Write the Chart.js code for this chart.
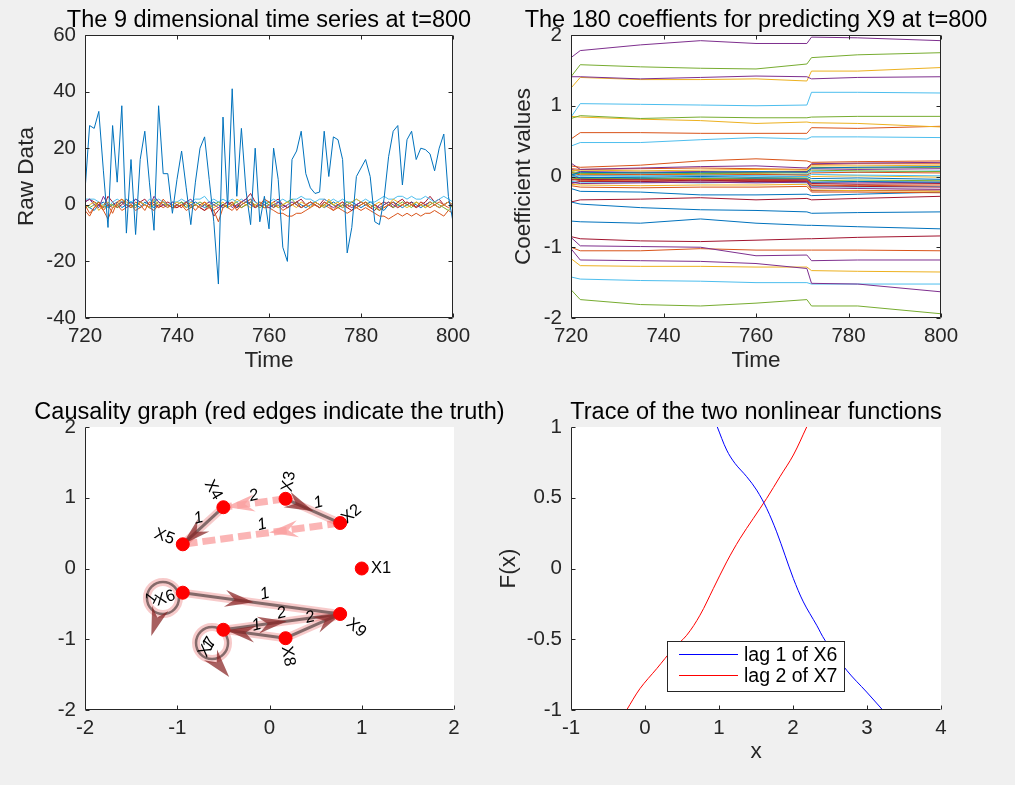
<!DOCTYPE html>
<html>
<head>
<meta charset="utf-8">
<script src="https://cdn.jsdelivr.net/npm/chart.js@4.4.1/dist/chart.umd.min.js"></script>
<style>
  html, body { margin: 0; padding: 0; background: #f0f0f0; }
  body { width: 1015px; height: 785px; position: relative; overflow: hidden; }
  canvas { position: absolute; }
  #c1 { left: 0; top: 0; }
  #c2 { left: 490px; top: 0; }
  #c3 { left: 0; top: 392px; }
  #c4 { left: 490px; top: 392px; }
</style>
</head>
<body>
<canvas id="c1" width="520" height="392"></canvas>
<canvas id="c2" width="525" height="392"></canvas>
<canvas id="c3" width="520" height="393"></canvas>
<canvas id="c4" width="525" height="393"></canvas>
<script>
// ---- panel 1: the 9 raw series, t = 720..800 ----
var timeStart = 720;
var ts1 = [5, 28, 27, 33, 12, -8, 28, 8, 35, -10,
  16, -10.5, 16, 26, 8, -9, 35, 11, 11, -3,
  9, 19, 6, -7, 8, 20, 24, 9, -6, -28,
  31, -1, 41, 3, 27, 5, -7, 20, -6, 3,
  -8.5, 20, 9, -15, -20, 16, 19, 26, 11, 6,
  4, 4.5, 26, 10, 24, 23, 16, -17, -8, 10,
  13, 16, 10, -6, -7, 2, 17, 26, 28, 7,
  23, 26, 16, 20, 19.5, 18, 12, 20, 25, 3,
  -6];
var ts2 = [0, -3, -1, 1, -2, 0, -3, 1, 2, 0,
  -1, 1, 0, -2, 1, 0, -1, 2, 0, -1,
  0, -1, 1, 0, -2, 0, 1, -1, -2, -6,
  -1, 0, 1, -2, 0, 1, 2, -1, 0, 2,
  1, -1, 0, -2, -1, 0, 1, -1, 0, 1,
  0, -1, 1, 0, -2, 0, 1, -1, 0, -1,
  0, 1, -1, 0, -2, -1, 0, 1, -1, 0,
  1, 0, -1, 1, 0, -1, 0, 1, 0, -1,
  0];
var ts3 = [-1, 0, 1, -2, 0, 1, -1, 0, 2, 1,
  0, -1, 1, 0, -1, 2, 0, 1, -1, 0,
  1, 0, -1, 1, 0, -1, 1, 0, -1, 0,
  1, -1, 0, 2, 1, 0, -1, 0, 1, -1,
  0, 1, -1, 0, 1, 0, -1, 1, 0, -1,
  1, 0, -1, 2, 0, 1, -1, 0, 1, 2,
  1, 0, -1, 0, 1, -1, 0, 2, 1, 0,
  -1, 0, 1, 0, -1, 1, 0, -1, 0, 1,
  0];
var ts4 = [1, 2, 0, -1, 3, 0, -1, 0, 1, -1,
  0, 2, 1, 0, -1, 3, 1, 0, -1, 1,
  0, -1, 1, 2, 0, -1, 0, 1, 0, -1,
  0, 1, -1, 0, 1, 2, 0, -1, 1, 0,
  -1, 0, 1, -1, 0, 1, 0, -1, 0, 1,
  0, -1, 1, 0, -1, 0, 1, 0, -1, 0,
  1, 0, -1, 0, -1, 0, 1, 0, -1, 0,
  1, 0, -1, 1, 0, 1, 0, -1, 0, 1,
  0];
var ts5 = [0, -1, 0, 1, -1, 0, 0, -1, 1, 0,
  -1, 0, 1, 0, -1, 0, 1, 0, 0, -1,
  0, 1, 0, -1, 0, 1, 0, -1, 0, 1,
  0, -1, 0, 1, -1, 0, 1, 0, -1, 0,
  1, 0, -1, 0, 1, 2, 0, -1, 0, 1,
  0, -1, 0, 1, 0, -1, 0, 1, 0, -1,
  0, 1, 0, -1, -2, 0, 1, -1, 0, 1,
  0, -1, 1, 0, -1, 0, 1, 0, -1, -2,
  0];
var ts6 = [2, 2, 2, 1, 0, -1, 1, 2, 1, 2,
  1, 2, 1, 0, 2, 1, 2, 1, 0, 1,
  1, 2, 1, 1, 2, 2, 3, 1, 2, 1,
  2, 1, 2, 1, 2, 1, 2, 1, 0, 1,
  1, 2, 1, 2, 1, 2, 2, 3, 2, 2,
  1, 2, 2, 1, 2, 1, 2, 1, 1, 2,
  1, 2, 1, 1, 2, 3, 2, 2, 3, 3,
  2, 3, 2, 2, 3, 2, 1, 2, 3, 2,
  1];
var ts7 = [1, 2, 1, 0, -1, 3, 1, -1, 0, 2,
  0, -1, 1, 2, 0, 1, -1, 0, 1, 0,
  -1, 0, 1, -1, 0, -1, -2, 0, -4, -2,
  0, 1, 0, -1, 1, 2, 4, 1, 0, -1,
  0, 1, 2, 0, -1, 0, 1, 2, 0, -1,
  1, 0, 2, 1, 0, -1, 0, -1, -2, 0,
  1, 0, -1, -2, 0, 1, 0, -1, 1, 2,
  0, 1, -1, 0, 1, 3, 1, 2, 0, 1,
  -1];
var ts8 = [0, -1, -2, 0, 1, -1, 0, 1, -1, 0,
  1, 0, -1, 1, 0, -1, 0, 1, 0, -1,
  0, 1, -1, 0, 1, 0, -1, 0, 1, 0,
  -1, 0, 1, -1, 0, 1, 0, -1, 0, 1,
  0, -1, 1, 0, -1, 0, 1, 0, -1, 0,
  1, 0, -1, 0, 1, 0, -1, 0, 1, 0,
  -1, 0, 1, 0, -1, -2, 0, 1, 0, -1,
  0, 1, 0, -1, 0, 1, 0, -1, 0, 1,
  0];
var ts9 = [-2, -4, -1, 0, -2, -5, -1, 0, -2, -1,
  0, -2, -1, 0, -1, -2, 0, -1, 0, -1,
  -1, 0, -2, -1, 0, -1, -2, -1, -2, -1,
  0, -1, -2, 0, -1, 0, 1, -1, 0, -1,
  -1, -2, -3, -3, -4, -4, -3, -3, -2, -1,
  0, -1, 0, -1, -2, -1, -2, -3, -2, -1,
  -2, -1, -2, -3, -4, -4, -5, -4, -3, -4,
  -3, -4, -3, -4, -3, -3, -2, -3, -4, -2,
  -3];

// ---- panel 2: coefficient paths, sampled at these times ----
var coefKnots = [720, 722, 735, 748, 760, 771, 772, 782, 800];
var coefUpper = [
  [1.68, 1.78, 1.86, 1.92, 1.88, 1.88, 1.97, 1.96, 1.92],
  [1.41, 1.58, 1.55, 1.53, 1.52, 1.59, 1.68, 1.72, 1.75],
  [1.41, 1.41, 1.38, 1.40, 1.42, 1.41, 1.38, 1.40, 1.41],
  [1.25, 1.40, 1.37, 1.37, 1.38, 1.35, 1.49, 1.49, 1.54],
  [0.84, 1.03, 1.02, 1.01, 1.00, 1.01, 1.19, 1.19, 1.18],
  [0.82, 0.86, 0.82, 0.84, 0.83, 0.83, 0.84, 0.85, 0.85],
  [0.85, 0.84, 0.81, 0.79, 0.75, 0.77, 0.76, 0.75, 0.70],
  [0.53, 0.62, 0.62, 0.61, 0.61, 0.61, 0.69, 0.68, 0.71],
  [0.43, 0.48, 0.48, 0.52, 0.55, 0.53, 0.56, 0.56, 0.55],
  [0.15, 0.13, 0.16, 0.22, 0.25, 0.22, 0.20, 0.21, 0.22],
  [0.19, 0.10, 0.12, 0.14, 0.15, 0.12, 0.18, 0.19, 0.20]
];
var coefUpperColor = [3, 4, 3, 2, 5, 4, 2, 1, 5, 1, 3];
var coefBand = [
  [0.02, 0.06, 0.05, 0.06, 0.07, 0.06, 0.12, 0.13, 0.14],
  [-0.03, -0.06, -0.05, -0.04, -0.05, -0.05, -0.12, -0.13, -0.12],
  [0.08, 0.09, 0.08, 0.09, 0.10, 0.09, 0.15, 0.15, 0.16],
  [-0.08, -0.10, -0.09, -0.08, -0.09, -0.08, -0.16, -0.17, -0.18],
  [0.05, 0.04, 0.05, 0.04, 0.05, 0.05, 0.09, 0.08, 0.07],
  [0.00, 0.01, 0.00, 0.02, 0.01, 0.00, 0.03, 0.02, 0.01],
  [-0.05, -0.04, -0.05, -0.06, -0.05, -0.06, -0.10, -0.11, -0.10],
  [0.03, -0.02, -0.01, 0.00, -0.01, 0.00, -0.03, -0.02, -0.04],
  [0.06, 0.02, 0.03, 0.02, 0.03, 0.02, 0.05, 0.06, 0.05],
  [-0.11, -0.12, -0.13, -0.12, -0.12, -0.11, -0.19, -0.20, -0.21],
  [0.10, 0.07, 0.06, 0.07, 0.06, 0.07, 0.11, 0.10, 0.11],
  [-0.02, -0.03, -0.02, -0.03, -0.02, -0.02, -0.06, -0.05, -0.06],
  [0.04, 0.01, 0.02, 0.01, 0.02, 0.03, 0.07, 0.06, 0.08],
  [-0.10, -0.07, -0.07, -0.08, -0.07, -0.07, -0.13, -0.14, -0.15],
  [-0.05, -0.01, -0.03, -0.02, -0.03, -0.03, -0.08, -0.07, -0.08],
  [0.11, 0.10, 0.11, 0.12, 0.11, 0.10, 0.17, 0.18, 0.18],
  [0.01, 0.03, 0.02, 0.03, 0.04, 0.02, 0.00, 0.01, -0.01],
  [-0.04, -0.05, -0.04, -0.05, -0.06, -0.04, -0.09, -0.09, -0.08],
  [0.07, 0.05, 0.06, 0.05, 0.06, 0.07, 0.13, 0.12, 0.13],
  [-0.07, -0.08, -0.08, -0.09, -0.08, -0.09, -0.14, -0.15, -0.14],
  [0.00, -0.02, -0.04, -0.04, -0.04, -0.04, -0.20, -0.20, -0.19],
  [-0.13, -0.15, -0.16, -0.15, -0.15, -0.14, -0.22, -0.22, -0.23]
];
var coefBandColor = [0, 1, 2, 3, 4, 5, 6, 0, 1, 2, 3, 4, 5, 6, 0, 1, 2, 3, 4, 5, 6, 1];
var coefLower = [
  [-0.17, -0.21, -0.22, -0.26, -0.26, -0.25, -0.27, -0.25, -0.22],
  [-0.36, -0.33, -0.32, -0.30, -0.33, -0.31, -0.33, -0.31, -0.28],
  [-0.36, -0.39, -0.44, -0.47, -0.48, -0.50, -0.52, -0.51, -0.50],
  [-0.63, -0.64, -0.66, -0.60, -0.66, -0.69, -0.69, -0.71, -0.74],
  [-0.85, -0.88, -0.91, -0.92, -0.90, -0.88, -0.88, -0.86, -0.84],
  [-0.86, -0.98, -0.99, -1.00, -1.12, -1.11, -1.19, -1.18, -1.18],
  [-1.00, -1.05, -1.05, -1.02, -1.04, -1.04, -1.04, -1.04, -1.05],
  [-1.02, -1.18, -1.19, -1.20, -1.23, -1.30, -1.51, -1.52, -1.63],
  [-1.16, -1.26, -1.27, -1.27, -1.28, -1.28, -1.33, -1.34, -1.35],
  [-1.42, -1.45, -1.47, -1.48, -1.50, -1.50, -1.52, -1.52, -1.52],
  [-1.60, -1.74, -1.81, -1.83, -1.79, -1.74, -1.83, -1.83, -1.94]
];
var coefLowerColor = [0, 6, 0, 0, 6, 3, 1, 3, 2, 5, 4];

// ---- panel 3: causality graph ----
var nodeNames = ["X1", "X2", "X3", "X4", "X5", "X6", "X7", "X8", "X9"];
var nodeX = [1.0, 0.766, 0.174, -0.5, -0.940, -0.940, -0.5, 0.174, 0.766];
var nodeY = [0.0, 0.643, 0.985, 0.866, 0.342, -0.342, -0.866, -0.985, -0.643];
var edgeFrom = [4, 3, 3, 2, 6, 6, 7, 8, 8, 7];
var edgeTo   = [5, 4, 2, 5, 6, 9, 9, 9, 7, 7];
var edgeLag  = [1, 2, 1, 1, 1, 1, 2, 2, 1, 1];
var edgeFound = [true, false, true, false, true, true, true, true, true, true];

// ---- panel 4: traced nonlinear functions ----
var lag1X6x = [0.977, 1.104, 1.216, 1.374, 1.509, 1.644, 1.779, 1.892, 2.005, 2.140, 2.320, 2.432, 2.725, 2.995, 3.212];
var lag1X6y = [1.0, 0.837, 0.743, 0.649, 0.554, 0.425, 0.259, 0.094, -0.071, -0.236, -0.401, -0.507, -0.719, -0.873, -1.0];
var lag2X7x = [-0.248, -0.068, 0.158, 0.383, 0.563, 0.743, 0.923, 1.104, 1.284, 1.464, 1.644, 1.824, 2.005, 2.185];
var lag2X7y = [-1.0, -0.849, -0.708, -0.566, -0.472, -0.330, -0.142, 0.047, 0.212, 0.354, 0.495, 0.649, 0.802, 1.0];

// ---------------------------------------------------------------
var INK = "#262626";
var FONT = '"Liberation Sans", Arial, Helvetica, sans-serif';
var palette = ["#0072BD", "#D95319", "#EDB120", "#7E2F8E", "#77AC30", "#4DBEEE", "#A2142F"];
Chart.defaults.font.family = FONT;
Chart.defaults.color = INK;
Chart.defaults.animation = false;

// white axes box, inward ticks, optional full box, panel title
var matlabFrame = {
  id: "matlabFrame",
  beforeDraw: function (chart) {
    var a = chart.chartArea, ctx = chart.ctx;
    ctx.save();
    ctx.fillStyle = "#ffffff";
    ctx.fillRect(a.left, a.top, a.right - a.left, a.bottom - a.top);
    ctx.restore();
  },
  afterDraw: function (chart, args, opts) {
    var ctx = chart.ctx, a = chart.chartArea;
    var sx = chart.scales.x, sy = chart.scales.y, tl = 4;
    var L = Math.round(a.left) + 0.5, R = Math.round(a.right) - 0.5;
    var T = Math.round(a.top) + 0.5, B = Math.round(a.bottom) - 0.5;
    ctx.save();
    ctx.strokeStyle = INK;
    ctx.lineWidth = 1;
    ctx.beginPath();
    ctx.moveTo(L, T); ctx.lineTo(L, B); ctx.lineTo(R, B);
    if (opts.box) { ctx.moveTo(L, T); ctx.lineTo(R, T); ctx.lineTo(R, B); }
    sx.ticks.forEach(function (t) {
      var p = Math.round(sx.getPixelForValue(t.value)) + 0.5;
      ctx.moveTo(p, B); ctx.lineTo(p, B - tl);
      if (opts.box) { ctx.moveTo(p, T); ctx.lineTo(p, T + tl); }
    });
    sy.ticks.forEach(function (t) {
      var p = Math.round(sy.getPixelForValue(t.value)) + 0.5;
      ctx.moveTo(L, p); ctx.lineTo(L + tl, p);
      if (opts.box) { ctx.moveTo(R, p); ctx.lineTo(R - tl, p); }
    });
    ctx.stroke();
    if (opts.title) {
      ctx.fillStyle = "#000";
      ctx.font = "23.5px " + FONT;
      ctx.textAlign = "center";
      ctx.textBaseline = "alphabetic";
      ctx.fillText(opts.title, (a.left + a.right) / 2, a.top - 8);
    }
    ctx.restore();
  }
};

// plain number labels (1 not 1.0)
function plainTick(v) { return String(Math.round(v * 100) / 100); }

function xAxis(min, max, step, title, height, titlePad) {
  return {
    type: "linear", min: min, max: max,
    ticks: { stepSize: step, autoSkip: false, maxRotation: 0, padding: 6, color: INK, font: { size: 20.5 }, callback: plainTick },
    grid: { display: false, drawTicks: false },
    border: { display: false },
    title: title ? { display: true, text: title, color: INK, font: { size: 22.5 }, padding: { top: 0, bottom: titlePad } } : { display: false },
    afterFit: function (s) { s.height = height; }
  };
}
function yAxis(min, max, step, title, width, titlePad) {
  return {
    type: "linear", min: min, max: max,
    ticks: { stepSize: step, autoSkip: false, padding: 9, color: INK, font: { size: 20.5 }, callback: plainTick },
    grid: { display: false, drawTicks: false },
    border: { display: false },
    title: title ? { display: true, text: title, color: INK, font: { size: 22.5 }, padding: { top: titlePad, bottom: 0 } } : { display: false },
    afterFit: function (s) { s.width = width; }
  };
}

// ---- panel 1 ----
var rawSeries = [ts1, ts2, ts3, ts4, ts5, ts6, ts7, ts8, ts9];
new Chart(document.getElementById("c1"), {
  type: "line",
  data: {
    datasets: rawSeries.map(function (s, k) {
      return {
        data: s.map(function (v, i) { return { x: timeStart + i, y: v }; }),
        borderColor: palette[k % 7], borderWidth: 1, pointRadius: 0, tension: 0, fill: false
      };
    })
  },
  options: {
    responsive: false,
    layout: { padding: { left: 0, top: 35, right: 67, bottom: 0 } },
    plugins: { legend: { display: false }, tooltip: { enabled: false },
      matlabFrame: { box: true, title: "The 9 dimensional time series at t=800" } },
    scales: { x: xAxis(720, 800, 20, "Time", 74, 17.5), y: yAxis(-40, 60, 20, "Raw Data", 85, 13.5) }
  },
  plugins: [matlabFrame]
});

// ---- panel 2 ----
function coefSets(rows, colors) {
  return rows.map(function (r, k) {
    return {
      data: r.map(function (v, i) { return { x: coefKnots[i], y: v }; }),
      borderColor: palette[colors[k]], borderWidth: 1, pointRadius: 0, tension: 0, fill: false
    };
  });
}
new Chart(document.getElementById("c2"), {
  type: "line",
  data: { datasets: coefSets(coefUpper, coefUpperColor).concat(coefSets(coefBand, coefBandColor), coefSets(coefLower, coefLowerColor)) },
  options: {
    responsive: false,
    layout: { padding: { left: 0, top: 35, right: 74, bottom: 0 } },
    plugins: { legend: { display: false }, tooltip: { enabled: false },
      matlabFrame: { box: true, title: "The 180 coeffients for predicting X9 at t=800" } },
    scales: { x: xAxis(720, 800, 20, "Time", 74, 17.5), y: yAxis(-2, 2, 1, "Coefficient values", 81, 20.5) }
  },
  plugins: [matlabFrame]
});

// ---- panel 3 ----
// label placement for the drawing (data units / degrees)
var nodeLabelPos = [[1.10, 0.0, 0], [0.89, 0.77, -40], [0.21, 1.23, -80], [-0.61, 1.11, 60], [-1.14, 0.45, 20],
  [-1.13, -0.42, -20], [-0.67, -1.11, -60], [0.20, -1.24, 80], [0.94, -0.84, 40]];
var lagLabelPos = [[-0.77, 0.71], [-0.17, 1.03], [0.53, 0.93], [-0.08, 0.62], [-1.28, -0.42],
  [-0.05, -0.36], [0.13, -0.63], [0.44, -0.69], [-0.14, -0.80], [-0.66, -1.08]];
var arrowAt = [0.75, 0.73, 0.27, 0.36, 0, 0.36, 0.42, 0.8, 0.72, 0];
var loopShape = { 6: { cx: -1.155, cy: -0.417, ax: -1.233, ay: -0.758, ang: 108 },
                  7: { cx: -0.623, cy: -1.053, ax: -0.538, ay: -1.378, ang: 50 } };

var edgeGlow = "rgba(232, 95, 95, 0.33)";
var edgeCore = "rgba(125, 100, 100, 0.95)";
var truthOnly = "rgba(250, 168, 168, 0.85)";

function dart(ctx, x, y, ang, len, wid, color) {
  ctx.save();
  ctx.translate(x, y);
  ctx.rotate(ang);
  ctx.fillStyle = color;
  ctx.beginPath();
  ctx.moveTo(len / 2, 0);
  ctx.lineTo(-len / 2, -wid / 2);
  ctx.lineTo(-len / 6, 0);
  ctx.lineTo(-len / 2, wid / 2);
  ctx.closePath();
  ctx.fill();
  ctx.restore();
}

var graphDecor = {
  id: "graphDecor",
  beforeDatasetDraw: function (chart, args) {
    if (args.index !== 0) return;
    var ctx = chart.ctx, sx = chart.scales.x, sy = chart.scales.y;
    ctx.save();
    edgeFrom.forEach(function (f, k) {
      var t = edgeTo[k];
      var col = edgeFound[k] ? "rgba(135, 35, 35, 0.72)" : "rgba(250, 160, 160, 0.8)";
      if (f === t) {
        var lp = loopShape[f];
        var cx = sx.getPixelForValue(lp.cx), cy = sy.getPixelForValue(lp.cy);
        ctx.beginPath(); ctx.arc(cx, cy, 16, 0, Math.PI * 2);
        ctx.strokeStyle = edgeGlow; ctx.lineWidth = 8; ctx.stroke();
        ctx.strokeStyle = edgeCore; ctx.lineWidth = 2.5; ctx.stroke();
        dart(ctx, sx.getPixelForValue(lp.ax), sy.getPixelForValue(lp.ay), lp.ang * Math.PI / 180, 29, 17, col);
        return;
      }
      var x0 = sx.getPixelForValue(nodeX[f - 1]), y0 = sy.getPixelForValue(nodeY[f - 1]);
      var x1 = sx.getPixelForValue(nodeX[t - 1]), y1 = sy.getPixelForValue(nodeY[t - 1]);
      var u = arrowAt[k];
      dart(ctx, x0 + (x1 - x0) * u, y0 + (y1 - y0) * u, Math.atan2(y1 - y0, x1 - x0), 29, 17, col);
    });
    ctx.restore();
  },
  afterDatasetsDraw: function (chart) {
    var ctx = chart.ctx, sx = chart.scales.x, sy = chart.scales.y;
    ctx.save();
    ctx.fillStyle = "#000";
    ctx.textBaseline = "middle";
    nodeNames.forEach(function (n, i) {
      var p = nodeLabelPos[i];
      ctx.save();
      ctx.translate(sx.getPixelForValue(p[0]), sy.getPixelForValue(p[1]));
      ctx.rotate(p[2] * Math.PI / 180);
      ctx.font = "16.5px " + FONT;
      ctx.textAlign = i === 0 ? "left" : "center";
      ctx.fillText(n, 0, 0);
      ctx.restore();
    });
    edgeLag.forEach(function (g, k) {
      var p = lagLabelPos[k];
      ctx.save();
      ctx.translate(sx.getPixelForValue(p[0]), sy.getPixelForValue(p[1]));
      if (edgeFrom[k] === edgeTo[k]) ctx.rotate(-1.1);
      else ctx.rotate(-0.25);
      ctx.font = "italic 16.5px " + FONT;
      ctx.textAlign = "center";
      ctx.fillText(String(g), 0, 0);
      ctx.restore();
    });
    ctx.restore();
  }
};

var graphSets = [{
  type: "scatter",
  data: nodeX.map(function (v, i) { return { x: v, y: nodeY[i] }; }),
  pointRadius: 6.5, pointStyle: "circle", backgroundColor: "#ff0000", borderColor: "#ff0000", showLine: false
}];
edgeFrom.forEach(function (f, k) {
  var t = edgeTo[k];
  if (f === t) return;
  var seg = [{ x: nodeX[f - 1], y: nodeY[f - 1] }, { x: nodeX[t - 1], y: nodeY[t - 1] }];
  if (edgeFound[k]) {
    graphSets.push({ data: seg, borderColor: edgeCore, borderWidth: 3, pointRadius: 0 });
    graphSets.push({ data: seg, borderColor: edgeGlow, borderWidth: 8, pointRadius: 0 });
  } else {
    graphSets.push({ data: seg, borderColor: truthOnly, borderWidth: 7, borderDash: [13, 5], pointRadius: 0 });
  }
});

new Chart(document.getElementById("c3"), {
  type: "line",
  data: { datasets: graphSets },
  options: {
    responsive: false,
    layout: { padding: { left: 0, top: 35, right: 66, bottom: 0 } },
    plugins: { legend: { display: false }, tooltip: { enabled: false },
      matlabFrame: { box: false, title: "Causality graph (red edges indicate the truth)" } },
    scales: { x: xAxis(-2, 2, 1, null, 75, 0), y: yAxis(-2, 2, 1, null, 85, 0) }
  },
  plugins: [matlabFrame, graphDecor]
});

// ---- panel 4 ----
var insideLegend = {
  id: "insideLegend",
  afterDraw: function (chart, args, opts) {
    var ctx = chart.ctx, a = chart.chartArea;
    var bx = Math.round(a.left + opts.left), by = Math.round(a.top + opts.top);
    ctx.save();
    ctx.fillStyle = "#fff";
    ctx.fillRect(bx, by, opts.width, opts.height);
    ctx.strokeStyle = INK; ctx.lineWidth = 1;
    ctx.strokeRect(bx + 0.5, by + 0.5, opts.width, opts.height);
    chart.data.datasets.forEach(function (ds, i) {
      var ly = by + 13.5 + i * 21;
      ctx.strokeStyle = ds.borderColor;
      ctx.beginPath(); ctx.moveTo(bx + 12, ly); ctx.lineTo(bx + 71, ly); ctx.stroke();
      ctx.fillStyle = "#000";
      ctx.font = "19.5px " + FONT;
      ctx.textBaseline = "middle";
      ctx.fillText(ds.label, bx + 77, ly + 1);
    });
    ctx.restore();
  }
};

new Chart(document.getElementById("c4"), {
  type: "line",
  data: {
    datasets: [
      { label: "lag 1 of X6", data: lag1X6x.map(function (v, i) { return { x: v, y: lag1X6y[i] }; }),
        borderColor: "#0000ff", borderWidth: 1, pointRadius: 0, tension: 0.35 },
      { label: "lag 2 of X7", data: lag2X7x.map(function (v, i) { return { x: v, y: lag2X7y[i] }; }),
        borderColor: "#ff0000", borderWidth: 1, pointRadius: 0, tension: 0.35 }
    ]
  },
  options: {
    responsive: false,
    layout: { padding: { left: 0, top: 35, right: 74, bottom: 0 } },
    plugins: { legend: { display: false }, tooltip: { enabled: false },
      matlabFrame: { box: false, title: "Trace of the two nonlinear functions" },
      insideLegend: { left: 96, top: 214, width: 177, height: 50 } },
    scales: { x: xAxis(-1, 4, 1, "x", 75, 19.5), y: yAxis(-1, 1, 0.5, "F(x)", 81, 5.5) }
  },
  plugins: [matlabFrame, insideLegend]
});
</script>
</body>
</html>
